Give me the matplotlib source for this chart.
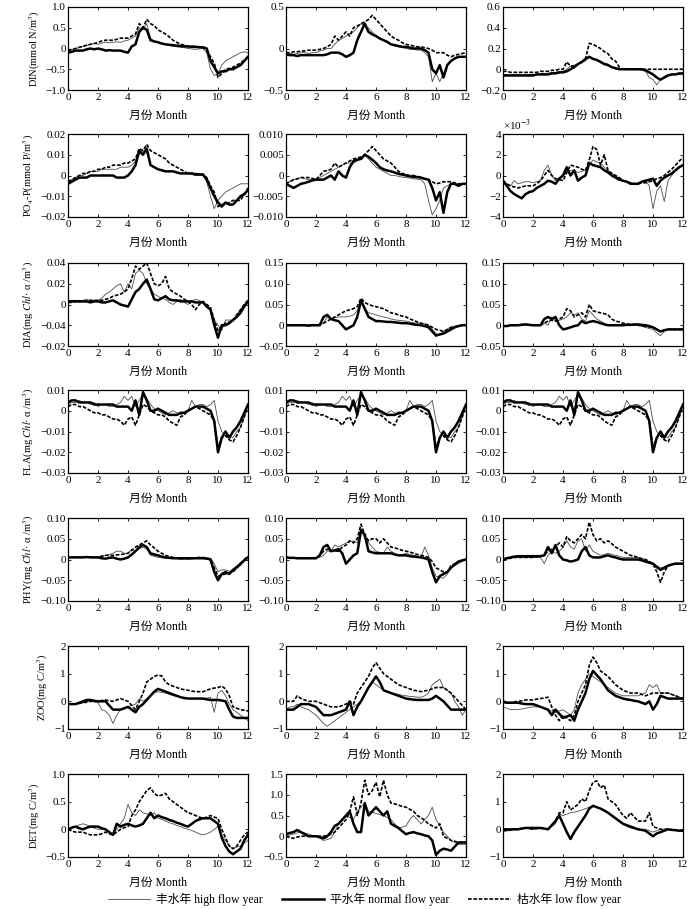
import numpy as np
import matplotlib.pyplot as plt
from matplotlib.lines import Line2D

plt.rcParams['font.family'] = ['Liberation Serif', 'Noto Sans CJK SC']
plt.rcParams['mathtext.fontset'] = 'stix'
plt.rcParams['axes.unicode_minus'] = True

# sample positions (month), every quarter month
month = np.linspace(0, 12, 49)

# ---------------- DIN ----------------
din1_high = [-0.05, -0.03, 0.0, 0.02, 0.05, 0.08, 0.1, 0.12, 0.1, 0.13, 0.15, 0.14,
             0.15, 0.16, 0.15, 0.18, 0.2, 0.25, 0.3, 0.5, 0.45, 0.6, 0.25, 0.18,
             0.15, 0.12, 0.1, 0.08, 0.05, 0.04, 0.03, 0.02, 0.0, -0.01, -0.02, -0.01,
             0.0, -0.1, -0.5, -0.65, -0.6, -0.4, -0.3, -0.25, -0.2, -0.15, -0.1, -0.08, -0.1]
din1_norm = [-0.1, -0.08, -0.05, -0.05, -0.05, -0.02, 0.0, -0.02, 0.0, -0.02, -0.05, -0.04,
             -0.05, -0.05, -0.05, -0.08, -0.1, 0.05, 0.1, 0.4, 0.5, 0.45, 0.2, 0.17,
             0.15, 0.12, 0.1, 0.09, 0.08, 0.07, 0.06, 0.05, 0.05, 0.04, 0.04, 0.03,
             0.03, 0.0, -0.3, -0.45, -0.6, -0.55, -0.55, -0.5, -0.5, -0.45, -0.4, -0.3, -0.2]
din1_low = [-0.05, -0.02, 0.0, 0.03, 0.05, 0.08, 0.1, 0.12, 0.15, 0.18, 0.2, 0.2,
            0.2, 0.22, 0.25, 0.25, 0.25, 0.3, 0.35, 0.6, 0.5, 0.7, 0.6, 0.55,
            0.45, 0.4, 0.35, 0.28, 0.2, 0.15, 0.1, 0.08, 0.05, 0.05, 0.05, 0.04,
            0.02, -0.05, -0.2, -0.35, -0.7, -0.6, -0.5, -0.48, -0.45, -0.4, -0.35, -0.28, -0.2]

din2_high = [-0.05, -0.06, -0.07, -0.06, -0.05, -0.05, -0.06, -0.05, -0.05, -0.03, -0.02, 0.0,
             0.0, 0.05, 0.1, 0.12, 0.15, 0.18, 0.2, 0.25, 0.3, 0.27, 0.25, 0.2,
             0.15, 0.12, 0.1, 0.07, 0.05, 0.03, 0.02, 0.01, 0.0, -0.01, -0.01, -0.02,
             -0.02, -0.05, -0.1, -0.4, -0.3, -0.4, -0.3, -0.2, -0.15, -0.12, -0.1, -0.1, -0.1]
din2_norm = [-0.07, -0.08, -0.08, -0.09, -0.08, -0.08, -0.08, -0.08, -0.08, -0.08, -0.08, -0.07,
             -0.05, -0.05, -0.05, -0.07, -0.1, -0.08, -0.05, 0.1, 0.2, 0.3, 0.2, 0.17,
             0.15, 0.12, 0.1, 0.08, 0.05, 0.04, 0.03, 0.02, 0.02, 0.01, 0.0, 0.0,
             0.0, -0.02, -0.05, -0.25, -0.3, -0.2, -0.35, -0.2, -0.15, -0.12, -0.1, -0.1, -0.1]
din2_low = [-0.05, -0.05, -0.04, -0.04, -0.03, -0.03, -0.02, -0.02, -0.02, -0.01, 0.0, 0.02,
            0.05, 0.15, 0.1, 0.15, 0.2, 0.15, 0.25, 0.27, 0.3, 0.32, 0.35, 0.4,
            0.35, 0.3, 0.25, 0.2, 0.15, 0.12, 0.1, 0.07, 0.05, 0.04, 0.03, 0.02,
            0.02, 0.01, 0.0, -0.02, -0.05, -0.05, -0.05, -0.08, -0.1, -0.08, -0.07, -0.06, -0.05]

din3_high = [-0.05, -0.05, -0.06, -0.05, -0.05, -0.06, -0.05, -0.05, -0.05, -0.05, -0.04, -0.04,
             -0.04, -0.03, -0.03, -0.02, -0.02, 0.0, 0.03, 0.04, 0.05, 0.07, 0.08, 0.12,
             0.1, 0.09, 0.08, 0.06, 0.05, 0.02, 0.0, 0.0, 0.0, 0.0, 0.0, 0.0,
             0.0, -0.01, -0.02, -0.08, -0.1, -0.15, -0.1, -0.07, -0.05, -0.05, -0.05, -0.05, -0.05]
din3_norm = [-0.06, -0.06, -0.06, -0.06, -0.06, -0.06, -0.06, -0.06, -0.06, -0.05, -0.05, -0.05,
             -0.05, -0.04, -0.04, -0.03, -0.03, -0.02, 0.0, 0.02, 0.05, 0.07, 0.1, 0.12,
             0.1, 0.09, 0.07, 0.05, 0.04, 0.02, 0.01, 0.0, 0.0, 0.0, 0.0, 0.0,
             0.0, 0.0, -0.01, -0.03, -0.05, -0.08, -0.1, -0.08, -0.06, -0.05, -0.05, -0.04, -0.04]
din3_low = [-0.02, -0.02, -0.03, -0.03, -0.03, -0.03, -0.03, -0.03, -0.03, -0.03, -0.02, -0.02,
            -0.02, -0.01, -0.01, 0.0, 0.0, 0.07, 0.03, 0.03, 0.05, 0.07, 0.1, 0.25,
            0.24, 0.22, 0.2, 0.17, 0.15, 0.1, 0.08, 0.02, 0.0, 0.0, 0.0, 0.0,
            0.0, 0.0, 0.0, 0.0, 0.0, 0.0, 0.0, 0.0, 0.0, 0.0, 0.0, 0.0, 0.0]

# ---------------- PO4-P ----------------
po1_high = [-0.003, -0.002, -0.001, 0.0, 0.0, 0.001, 0.002, 0.002, 0.002, 0.003, 0.003, 0.003,
            0.003, 0.003, 0.004, 0.004, 0.004, 0.005, 0.007, 0.01, 0.012, 0.011, 0.005, 0.004,
            0.003, 0.003, 0.002, 0.002, 0.002, 0.001, 0.001, 0.001, 0.001, 0.0005, 0.0, 0.0,
            0.0, -0.003, -0.01, -0.016, -0.012, -0.01, -0.008, -0.007, -0.006, -0.005, -0.004, -0.004, -0.004]
po1_norm = [-0.004, -0.003, -0.002, -0.001, -0.001, -0.001, 0.0, 0.0, 0.0, 0.0, 0.0, 0.0,
            0.0, -0.001, -0.001, -0.001, 0.0, 0.002, 0.005, 0.012, 0.01, 0.013, 0.005, 0.004,
            0.003, 0.0025, 0.002, 0.002, 0.002, 0.0015, 0.001, 0.001, 0.001, 0.001, 0.0005, 0.0005,
            0.0005, -0.002, -0.006, -0.01, -0.013, -0.015, -0.013, -0.014, -0.014, -0.012, -0.01, -0.009, -0.007]
po1_low = [-0.003, -0.002, -0.001, 0.0, 0.001, 0.001, 0.002, 0.002, 0.003, 0.003, 0.004, 0.004,
           0.005, 0.005, 0.005, 0.006, 0.006, 0.007, 0.008, 0.013, 0.012, 0.015, 0.012, 0.011,
           0.01, 0.009, 0.008, 0.006, 0.005, 0.004, 0.003, 0.002, 0.001, 0.001, 0.001, 0.0005,
           0.0005, -0.001, -0.005, -0.008, -0.015, -0.014, -0.014, -0.013, -0.012, -0.012, -0.012, -0.009, -0.006]

po2_high = [-0.002, -0.0015, -0.001, -0.0008, -0.0005, -0.0008, -0.001, -0.001, -0.001, -0.0005, 0.0, 0.0005,
            0.001, 0.0015, 0.002, 0.0025, 0.003, 0.003, 0.003, 0.0035, 0.004, 0.005, 0.004, 0.003,
            0.002, 0.0015, 0.001, 0.0005, 0.0, 0.0, -0.0002, -0.0004, -0.0005, -0.0006, -0.0008, -0.0009,
            -0.001, -0.002, -0.006, -0.0095, -0.008, -0.006, -0.003, -0.0025, -0.002, -0.002, -0.002, -0.002, -0.002]
po2_norm = [-0.002, -0.0025, -0.003, -0.0025, -0.002, -0.0018, -0.0015, -0.0012, -0.001, -0.001, -0.001, -0.0005,
            0.0, -0.001, 0.001, 0.0, -0.0005, 0.002, 0.0035, 0.0038, 0.004, 0.005, 0.0045, 0.0038,
            0.003, 0.002, 0.0015, 0.0012, 0.001, 0.0007, 0.0004, 0.0002, 0.0, -0.0002, -0.0003, -0.0004,
            -0.0005, -0.0008, -0.001, -0.003, -0.006, -0.004, -0.009, -0.004, -0.002, -0.002, -0.0025, -0.002, -0.002]
po2_low = [-0.002, -0.0015, -0.001, -0.0008, -0.0005, -0.0005, -0.0005, -0.0007, -0.001, 0.0, 0.001, 0.0012,
           0.0015, 0.003, 0.002, 0.0025, 0.003, 0.0035, 0.004, 0.0042, 0.0045, 0.005, 0.006, 0.007,
           0.006, 0.005, 0.004, 0.0035, 0.003, 0.002, 0.001, 0.0005, 0.0002, 0.0, 0.0, -0.0002,
           -0.0005, -0.0008, -0.001, -0.0015, -0.002, -0.0018, -0.0015, -0.0015, -0.0015, -0.0018, -0.002, -0.002, -0.002]

# third column read in units of 1e-3
po3_high = [-0.5, -0.8, -1.0, -0.5, -0.8, -0.7, -0.6, -0.6, -0.7, -0.6, -0.5, 0.5,
            1.0, 0.0, -0.5, -0.3, 0.0, 0.3, 0.5, 0.4, 0.3, 0.4, 0.5, 1.0,
            1.5, 1.3, 1.2, 0.8, 0.5, 0.2, 0.0, -0.3, -0.5, -0.6, -0.7, -0.8,
            -0.8, -0.6, -0.5, -1.0, -3.2, -1.5, -1.0, -2.5, -0.5, 0.0, 0.5, 0.8, 1.0]
po3_norm = [-0.5, -1.0, -1.5, -1.8, -2.0, -2.2, -1.8, -1.6, -1.5, -1.2, -1.0, -0.8,
            -0.5, -0.6, -0.8, -0.3, 0.0, 0.8, 0.0, 0.5, -0.5, -0.2, 0.0, 1.2,
            1.0, 0.9, 0.8, 0.5, 0.3, 0.0, -0.2, -0.4, -0.5, -0.6, -0.8, -0.8,
            -0.8, -0.6, -0.5, -0.4, -0.3, -1.0, -0.5, -0.2, 0.0, 0.2, 0.5, 0.8, 1.0]
po3_low = [-0.5, -0.8, -1.0, -1.1, -1.2, -1.1, -1.0, -1.0, -1.0, -0.8, -0.5, 0.0,
           0.5, 0.0, -0.3, -0.4, -0.5, 0.3, 1.0, 0.9, 0.8, 0.6, 0.5, 1.5,
           2.8, 2.5, 1.0, 2.0, 0.5, 0.2, 0.0, -0.2, -0.5, -0.6, -0.7, -0.8,
           -0.8, -0.7, -0.7, -0.6, -0.5, -0.3, -0.2, 0.0, 0.3, 0.6, 1.0, 1.4, 1.7]

# ---------------- DIA ----------------
dia1_high = [0.003, 0.004, 0.004, 0.004, 0.004, 0.005, 0.004, 0.004, 0.004, 0.006, 0.01, 0.012,
             0.015, 0.018, 0.02, 0.012, 0.02, 0.015, 0.03, 0.033, 0.03, 0.02, 0.015, 0.01,
             0.008, 0.006, 0.005, 0.002, 0.0, 0.003, 0.005, 0.002, 0.0, 0.003, 0.005, 0.004,
             0.002, -0.002, -0.005, -0.015, -0.02, -0.025, -0.015, -0.015, -0.015, -0.01, -0.005, 0.0, 0.003]
dia1_norm = [0.003, 0.003, 0.003, 0.003, 0.003, 0.003, 0.002, 0.003, 0.003, 0.002, 0.002, 0.003,
             0.004, 0.002, 0.0, -0.001, -0.002, 0.005, 0.012, 0.015, 0.02, 0.024, 0.015, 0.005,
             0.004, 0.006, 0.008, 0.005, 0.004, 0.004, 0.003, 0.003, 0.003, 0.003, 0.002, 0.002,
             0.002, -0.002, -0.005, -0.02, -0.032, -0.02, -0.02, -0.018, -0.015, -0.012, -0.008, -0.002, 0.003]
dia1_low = [0.002, 0.002, 0.003, 0.003, 0.003, 0.003, 0.004, 0.004, 0.004, 0.004, 0.005, 0.006,
            0.008, 0.009, 0.01, 0.012, 0.015, 0.025, 0.037, 0.034, 0.037, 0.04, 0.03, 0.02,
            0.018, 0.02, 0.027, 0.015, 0.012, 0.01, 0.008, 0.005, 0.003, 0.0, -0.005, 0.0,
            0.003, 0.0, -0.003, -0.015, -0.025, -0.022, -0.018, -0.017, -0.015, -0.01, -0.005, 0.0, 0.004]

dia2_high = [0.0, 0.0, 0.001, 0.0, 0.0, 0.0, 0.0, 0.0, 0.0, 0.002, 0.005, 0.02,
             0.015, 0.018, 0.02, 0.02, 0.02, 0.022, 0.025, 0.035, 0.055, 0.04, 0.03, 0.028,
             0.025, 0.022, 0.02, 0.018, 0.015, 0.013, 0.012, 0.011, 0.01, 0.008, 0.006, 0.005,
             0.005, 0.003, 0.0, -0.01, -0.02, -0.025, -0.015, -0.01, -0.005, -0.003, -0.002, 0.0, 0.0]
dia2_norm = [0.0, 0.0, 0.0, 0.0, 0.0, 0.0, -0.001, 0.0, 0.0, 0.0, 0.02, 0.025,
             0.015, 0.012, 0.01, 0.0, -0.01, -0.005, 0.0, 0.02, 0.06, 0.04, 0.02, 0.015,
             0.01, 0.01, 0.009, 0.008, 0.008, 0.007, 0.006, 0.005, 0.005, 0.004, 0.002, 0.001,
             0.0, -0.002, -0.005, -0.015, -0.025, -0.022, -0.02, -0.015, -0.01, -0.005, -0.002, 0.0, 0.0]
dia2_low = [0.0, 0.0, 0.0, 0.0, 0.0, 0.0, 0.0, 0.0, 0.0, 0.002, 0.005, 0.01,
            0.015, 0.02, 0.025, 0.03, 0.035, 0.037, 0.04, 0.045, 0.065, 0.055, 0.05, 0.047,
            0.045, 0.042, 0.04, 0.035, 0.03, 0.028, 0.025, 0.022, 0.02, 0.015, 0.012, 0.008,
            0.005, 0.003, 0.0, -0.005, -0.01, -0.012, -0.015, -0.01, -0.005, -0.003, -0.002, 0.0, 0.0]

dia3_high = [-0.002, -0.002, 0.0, 0.0, 0.0, 0.002, 0.002, 0.0, 0.0, 0.0, 0.0, 0.005,
             0.0, 0.02, 0.01, 0.012, 0.015, 0.02, 0.03, 0.025, 0.03, 0.015, 0.01, 0.035,
             0.025, 0.015, 0.01, 0.005, 0.0, 0.0, 0.0, 0.0, 0.0, 0.0, 0.0, 0.0,
             0.0, -0.002, -0.005, -0.008, -0.01, -0.018, -0.025, -0.015, -0.01, -0.01, -0.01, -0.01, -0.01]
dia3_norm = [-0.002, -0.002, 0.0, 0.0, 0.0, 0.001, 0.002, 0.001, 0.0, 0.0, 0.0, 0.015,
             0.02, 0.015, 0.02, 0.0, -0.01, -0.008, -0.005, -0.002, 0.0, 0.01, 0.005, 0.008,
             0.01, 0.008, 0.005, 0.002, 0.0, 0.0, 0.0, 0.0, 0.0, 0.001, 0.001, 0.002,
             0.002, 0.001, 0.0, -0.002, -0.005, -0.01, -0.015, -0.012, -0.01, -0.01, -0.01, -0.01, -0.01]
dia3_low = [-0.002, -0.002, 0.0, 0.0, 0.0, 0.002, 0.002, 0.0, 0.0, 0.0, 0.0, 0.005,
            0.01, 0.012, 0.01, 0.015, 0.02, 0.04, 0.035, 0.02, 0.025, 0.03, 0.02, 0.05,
            0.035, 0.032, 0.03, 0.028, 0.025, 0.015, 0.01, 0.008, 0.005, 0.003, 0.002, 0.001,
            0.0, -0.002, -0.003, -0.004, -0.005, -0.01, -0.015, -0.012, -0.01, -0.01, -0.01, -0.01, -0.01]

# ---------------- FLA (same in the three panels) ----------------
fla_high = [0.003, 0.004, 0.004, 0.005, 0.004, 0.004, 0.003, 0.004, 0.002, 0.003, 0.003, 0.002,
            0.002, 0.003, 0.004, 0.007, 0.005, 0.007, 0.002, 0.005, 0.008, 0.006, 0.003, 0.001,
            0.0, -0.001, -0.002, -0.001, 0.0, -0.001, -0.002, -0.001, 0.0, 0.005, 0.002, 0.003,
            0.003, 0.002, 0.003, 0.005, -0.005, -0.01, -0.012, -0.012, -0.013, -0.01, -0.008, -0.003, 0.003]
fla_norm = [0.004, 0.005, 0.005, 0.004, 0.004, 0.004, 0.004, 0.003, 0.003, 0.003, 0.003, 0.003,
            0.003, 0.002, 0.002, 0.002, 0.002, 0.0, 0.005, -0.002, 0.009, 0.005, 0.0, 0.0,
            0.001, 0.0, -0.001, -0.002, -0.002, -0.002, -0.001, -0.001, 0.0, 0.001, 0.002, 0.002,
            0.002, 0.001, 0.0, -0.005, -0.02, -0.013, -0.01, -0.013, -0.01, -0.008, -0.005, -0.001, 0.003]
fla_low = [0.002, 0.003, 0.003, 0.002, 0.002, 0.001, 0.0, -0.001, -0.001, -0.002, -0.002, -0.003,
           -0.004, -0.004, -0.005, -0.007, -0.004, -0.003, -0.007, -0.002, 0.003, 0.002, 0.0, -0.001,
           -0.002, -0.002, -0.003, -0.005, -0.006, -0.007, -0.003, -0.002, 0.0, 0.001, 0.002, 0.001,
           0.0, -0.001, -0.002, -0.005, -0.018, -0.013, -0.012, -0.014, -0.015, -0.012, -0.008, -0.003, 0.002]

# ---------------- PHY ----------------
phy1_high = [0.005, 0.006, 0.005, 0.006, 0.005, 0.006, 0.005, 0.006, 0.005, 0.008, 0.01, 0.012,
             0.015, 0.02, 0.02, 0.015, 0.015, 0.025, 0.02, 0.025, 0.03, 0.025, 0.01, 0.008,
             0.005, 0.004, 0.003, 0.003, 0.003, 0.002, 0.0, 0.001, 0.0, 0.001, 0.002, 0.004,
             0.005, 0.004, 0.003, -0.01, -0.03, -0.025, -0.025, -0.028, -0.03, -0.022, -0.015, -0.005, 0.005]
phy1_norm = [0.005, 0.005, 0.005, 0.005, 0.005, 0.006, 0.005, 0.005, 0.005, 0.003, 0.002, 0.004,
             0.005, 0.002, 0.0, 0.002, 0.005, 0.012, 0.02, 0.03, 0.035, 0.03, 0.015, 0.012,
             0.01, 0.007, 0.005, 0.004, 0.003, 0.003, 0.003, 0.003, 0.003, 0.003, 0.003, 0.003,
             0.003, 0.002, 0.0, -0.03, -0.05, -0.035, -0.03, -0.035, -0.025, -0.018, -0.01, -0.002, 0.005]
phy1_low = [0.005, 0.005, 0.006, 0.006, 0.006, 0.006, 0.006, 0.006, 0.006, 0.008, 0.01, 0.01,
            0.01, 0.011, 0.012, 0.013, 0.015, 0.022, 0.03, 0.035, 0.04, 0.045, 0.035, 0.028,
            0.02, 0.015, 0.01, 0.007, 0.005, 0.004, 0.004, 0.003, 0.003, 0.004, 0.004, 0.005,
            0.005, 0.003, 0.0, -0.02, -0.04, -0.037, -0.035, -0.032, -0.03, -0.02, -0.01, 0.0, 0.008]

phy2_high = [0.005, 0.004, 0.004, 0.003, 0.003, 0.003, 0.003, 0.003, 0.003, 0.005, 0.01, 0.02,
             0.02, 0.035, 0.03, 0.035, 0.04, 0.042, 0.045, 0.04, 0.075, 0.05, 0.04, 0.03,
             0.02, 0.017, 0.015, 0.03, 0.02, 0.015, 0.01, 0.012, 0.015, 0.012, 0.01, 0.008,
             0.005, 0.03, 0.01, -0.02, -0.04, -0.043, -0.045, -0.035, -0.02, -0.015, -0.01, -0.005, 0.0]
phy2_norm = [0.005, 0.004, 0.004, 0.003, 0.003, 0.003, 0.003, 0.003, 0.003, 0.01, 0.03, 0.035,
             0.02, 0.022, 0.025, 0.015, -0.01, 0.0, 0.01, 0.015, 0.07, 0.06, 0.02, 0.017,
             0.015, 0.015, 0.015, 0.015, 0.015, 0.012, 0.01, 0.01, 0.01, 0.008, 0.007, 0.006,
             0.005, 0.003, 0.0, -0.03, -0.055, -0.04, -0.035, -0.03, -0.02, -0.012, -0.005, -0.002, 0.0]
phy2_low = [0.005, 0.004, 0.004, 0.003, 0.003, 0.003, 0.003, 0.003, 0.003, 0.01, 0.02, 0.025,
            0.02, 0.02, 0.02, 0.03, 0.035, 0.045, 0.04, 0.05, 0.085, 0.06, 0.045, 0.05,
            0.05, 0.04, 0.05, 0.04, 0.03, 0.028, 0.025, 0.022, 0.02, 0.018, 0.015, 0.012,
            0.01, 0.008, 0.005, -0.005, -0.02, -0.025, -0.03, -0.03, -0.015, -0.01, -0.005, -0.002, 0.0]

phy3_high = [0.0, 0.002, 0.003, 0.005, 0.005, 0.005, 0.005, 0.005, 0.005, 0.005, 0.005, -0.01,
             0.01, 0.02, 0.015, 0.02, 0.03, 0.045, 0.03, 0.025, 0.045, 0.05, 0.02, 0.035,
             0.02, 0.015, 0.01, 0.012, 0.015, 0.012, 0.01, 0.008, 0.005, 0.005, 0.005, 0.005,
             0.005, 0.002, 0.0, -0.005, -0.01, -0.015, -0.02, -0.018, -0.015, -0.012, -0.01, -0.01, -0.01]
phy3_norm = [0.0, 0.003, 0.005, 0.007, 0.008, 0.008, 0.008, 0.008, 0.008, 0.008, 0.008, 0.01,
             0.03, 0.015, 0.035, 0.01, 0.0, -0.002, -0.005, -0.003, 0.0, 0.02, 0.03, 0.01,
             0.005, 0.005, 0.005, 0.008, 0.01, 0.007, 0.005, 0.002, 0.0, 0.0, 0.0, 0.0,
             0.0, -0.002, -0.005, -0.008, -0.01, -0.018, -0.025, -0.02, -0.015, -0.012, -0.01, -0.01, -0.01]
phy3_low = [0.0, 0.002, 0.003, 0.005, 0.005, 0.005, 0.005, 0.005, 0.005, 0.006, 0.008, 0.01,
            0.02, 0.025, 0.03, 0.04, 0.03, 0.055, 0.045, 0.04, 0.05, 0.06, 0.05, 0.09,
            0.06, 0.045, 0.05, 0.04, 0.045, 0.038, 0.03, 0.025, 0.02, 0.015, 0.01, 0.008,
            0.005, 0.002, 0.0, -0.005, -0.01, -0.03, -0.055, -0.03, -0.015, -0.012, -0.01, -0.01, -0.01]

# ---------------- ZOO ----------------
zoo1_high = [-0.1, -0.12, -0.1, -0.05, -0.05, 0.0, 0.0, -0.02, -0.05, -0.3, -0.35, -0.5,
             -0.8, -0.5, -0.3, -0.25, -0.2, -0.15, -0.1, 0.1, 0.0, 0.1, 0.2, 0.3,
             0.35, 0.32, 0.3, 0.25, 0.2, 0.18, 0.15, 0.12, 0.1, 0.1, 0.1, 0.1,
             0.1, 0.12, 0.15, -0.4, 0.3, 0.4, 0.2, -0.1, -0.3, -0.4, -0.5, -0.6, -0.7]
zoo1_norm = [-0.1, -0.1, -0.1, -0.05, 0.0, 0.05, 0.05, 0.02, 0.0, 0.0, 0.0, -0.15,
             -0.3, -0.3, -0.3, -0.25, -0.2, -0.3, -0.4, -0.2, -0.1, 0.05, 0.2, 0.35,
             0.45, 0.4, 0.35, 0.3, 0.25, 0.2, 0.15, 0.12, 0.1, 0.1, 0.1, 0.1,
             0.1, 0.07, 0.05, 0.05, 0.05, 0.03, 0.0, -0.3, -0.55, -0.6, -0.6, -0.6, -0.6]
zoo1_low = [-0.1, -0.1, -0.1, -0.08, -0.05, -0.03, 0.0, 0.0, 0.0, 0.03, 0.05, 0.02,
            0.0, 0.05, 0.1, 0.05, 0.0, -0.15, -0.3, 0.0, 0.3, 0.7, 0.8, 0.9,
            0.95, 0.92, 0.7, 0.6, 0.55, 0.5, 0.45, 0.42, 0.4, 0.37, 0.35, 0.35,
            0.35, 0.4, 0.45, 0.48, 0.5, 0.55, 0.45, 0.2, -0.2, -0.25, -0.3, -0.32, -0.35]

zoo2_high = [-0.3, -0.2, -0.2, -0.1, -0.2, -0.25, -0.3, -0.4, -0.5, -0.65, -0.8, -0.9,
             -0.8, -0.7, -0.6, -0.5, -0.4, -0.3, -0.2, -0.1, 0.0, 0.25, 0.5, 0.7,
             0.6, 0.5, 0.4, 0.35, 0.3, 0.28, 0.25, 0.22, 0.2, 0.18, 0.17, 0.15,
             0.15, 0.2, 0.3, 0.6, 0.7, 0.8, 0.5, 0.4, 0.3, 0.0, -0.2, -0.5, -0.3]
zoo2_norm = [-0.3, -0.3, -0.3, -0.2, -0.1, -0.1, -0.1, -0.15, -0.2, -0.35, -0.5, -0.5,
             -0.5, -0.45, -0.4, -0.35, -0.3, 0.0, -0.5, -0.2, 0.0, 0.25, 0.5, 0.7,
             0.9, 0.7, 0.4, 0.35, 0.3, 0.25, 0.2, 0.15, 0.1, 0.08, 0.06, 0.05,
             0.05, 0.05, 0.05, 0.1, 0.2, 0.1, 0.0, -0.15, -0.3, -0.3, -0.3, -0.3, -0.3]
zoo2_low = [0.0, 0.0, 0.0, 0.2, 0.1, 0.05, 0.0, 0.0, 0.0, -0.05, -0.1, -0.15,
            -0.2, -0.2, -0.2, -0.15, -0.1, 0.0, -0.1, 0.3, 0.5, 0.7, 0.9, 1.2,
            1.4, 1.2, 1.0, 0.9, 0.8, 0.7, 0.6, 0.55, 0.5, 0.45, 0.4, 0.38,
            0.35, 0.38, 0.4, 0.45, 0.5, 0.5, 0.5, 0.4, 0.3, 0.15, 0.0, -0.15, -0.3]

zoo3_high = [-0.2, -0.25, -0.3, -0.3, -0.3, -0.28, -0.25, -0.22, -0.2, -0.2, -0.2, -0.25,
             -0.3, -0.35, -0.4, -0.35, -0.3, -0.4, -0.5, -0.3, 0.3, 0.6, 0.8, 1.0,
             0.9, 0.8, 0.7, 0.6, 0.5, 0.4, 0.3, 0.25, 0.2, 0.2, 0.2, 0.2,
             0.2, 0.25, 0.3, 0.6, 0.5, 0.6, 0.3, 0.3, 0.3, 0.25, 0.2, 0.15, 0.1]
zoo3_norm = [0.0, -0.05, -0.05, -0.05, -0.05, -0.08, -0.1, -0.1, -0.1, -0.15, -0.2, -0.25,
             -0.3, -0.5, -0.3, -0.45, -0.6, -0.55, -0.5, -0.7, -0.3, 0.0, 0.3, 0.8,
             1.1, 0.95, 0.8, 0.6, 0.4, 0.3, 0.2, 0.15, 0.1, 0.07, 0.05, 0.02,
             0.0, -0.05, -0.1, 0.0, -0.3, -0.1, 0.2, 0.15, 0.1, 0.1, 0.1, 0.1, 0.1]
zoo3_low = [-0.05, -0.05, -0.05, -0.02, 0.0, 0.02, 0.05, 0.05, 0.05, 0.08, 0.1, 0.12,
            0.15, -0.2, -0.5, -0.7, -0.5, -0.6, -0.7, -0.5, 0.0, 0.3, 0.6, 1.3,
            1.6, 1.4, 1.1, 1.0, 0.9, 0.75, 0.6, 0.5, 0.4, 0.35, 0.3, 0.3,
            0.3, 0.25, 0.2, 0.25, 0.3, 0.3, 0.3, 0.3, 0.3, 0.25, 0.2, 0.15, 0.1]

# ---------------- DET ----------------
det1_high = [0.0, 0.03, 0.05, 0.08, 0.1, 0.08, 0.05, 0.02, 0.0, 0.0, 0.0, -0.05,
             -0.1, 0.0, 0.1, 0.2, 0.45, 0.3, 0.25, 0.35, 0.3, 0.28, 0.25, 0.3,
             0.2, 0.18, 0.15, 0.12, 0.1, 0.07, 0.05, 0.02, 0.0, -0.02, -0.05, -0.08,
             -0.1, -0.08, -0.05, 0.0, 0.05, -0.1, -0.2, -0.3, -0.35, -0.32, -0.3, -0.25, -0.2]
det1_norm = [0.0, 0.03, 0.05, 0.02, 0.0, 0.03, 0.05, 0.05, 0.05, 0.02, 0.0, -0.05,
             -0.1, 0.1, 0.05, 0.08, 0.1, 0.07, 0.05, 0.07, 0.1, 0.2, 0.3, 0.2,
             0.25, 0.22, 0.2, 0.17, 0.15, 0.12, 0.1, 0.07, 0.05, 0.1, 0.15, 0.18,
             0.2, 0.2, 0.2, 0.15, 0.1, -0.15, -0.3, -0.4, -0.45, -0.4, -0.35, -0.2, -0.1]
det1_low = [0.0, -0.03, -0.05, -0.05, -0.05, -0.08, -0.1, -0.1, -0.1, -0.08, -0.05, -0.08,
            -0.1, -0.05, 0.0, 0.03, 0.05, 0.25, 0.35, 0.5, 0.6, 0.7, 0.75, 0.65,
            0.6, 0.62, 0.65, 0.55, 0.5, 0.45, 0.4, 0.35, 0.3, 0.28, 0.25, 0.22,
            0.2, 0.22, 0.25, 0.22, 0.2, 0.0, -0.15, -0.3, -0.35, -0.3, -0.2, -0.1, -0.05]

det2_high = [0.0, 0.03, 0.05, 0.08, 0.1, 0.08, 0.05, 0.02, 0.0, -0.05, -0.1, -0.08,
             -0.05, 0.1, 0.3, 0.4, 0.5, 0.45, 0.4, 0.6, 0.7, 0.8, 0.6, 0.58,
             0.55, 0.52, 0.5, 0.45, 0.4, 0.3, 0.2, 0.22, 0.25, 0.4, 0.5, 0.4,
             0.3, 0.4, 0.5, 0.7, 0.4, 0.25, 0.1, 0.0, -0.1, -0.15, -0.2, -0.2, -0.2]
det2_norm = [0.05, 0.08, 0.1, 0.15, 0.1, 0.05, 0.0, 0.0, 0.0, -0.02, -0.05, 0.0,
             0.1, 0.25, 0.3, 0.4, 0.5, 0.6, 0.3, 0.1, 0.1, 0.8, 0.5, 0.6,
             0.7, 0.6, 0.5, 0.6, 0.3, 0.25, 0.2, 0.12, 0.05, 0.08, 0.1, 0.07,
             0.05, 0.02, 0.0, -0.1, -0.45, -0.35, -0.3, -0.32, -0.35, -0.25, -0.15, -0.15, -0.15]
det2_low = [0.0, -0.03, -0.05, -0.02, 0.0, 0.0, 0.0, 0.0, 0.0, 0.0, 0.0, 0.02,
            0.05, 0.1, 0.2, 0.3, 0.4, 0.6, 0.95, 0.5, 0.8, 1.35, 1.0, 1.1,
            1.3, 0.95, 1.35, 1.0, 0.8, 0.78, 0.75, 0.72, 0.7, 0.65, 0.6, 0.5,
            0.45, 0.38, 0.3, 0.25, 0.2, 0.3, 0.0, -0.05, -0.1, -0.12, -0.15, -0.15, -0.15]

det3_high = [-0.05, -0.05, -0.03, 0.0, 0.0, 0.02, 0.05, 0.03, 0.0, 0.03, 0.05, 0.02,
             0.0, 0.1, 0.2, 0.55, 0.5, 0.55, 0.6, 0.62, 0.65, 0.7, 0.75, 0.8,
             0.85, 0.8, 0.75, 0.68, 0.6, 0.5, 0.4, 0.3, 0.2, 0.1, 0.05, 0.02,
             0.0, 0.0, 0.0, -0.05, -0.1, -0.05, 0.0, 0.0, 0.0, -0.02, -0.03, -0.05, -0.05]
det3_norm = [0.0, 0.0, 0.0, 0.0, 0.0, 0.03, 0.05, 0.05, 0.05, 0.05, 0.05, 0.03,
             0.0, 0.15, 0.3, 0.5, 0.2, -0.1, -0.35, -0.1, 0.1, 0.3, 0.5, 0.75,
             0.85, 0.8, 0.75, 0.68, 0.6, 0.5, 0.4, 0.3, 0.2, 0.15, 0.1, 0.05,
             0.0, -0.02, -0.05, -0.15, -0.25, -0.15, -0.1, -0.05, 0.0, -0.02, -0.03, -0.05, -0.05]
det3_low = [-0.05, -0.05, -0.03, 0.0, 0.0, 0.02, 0.05, 0.03, 0.0, 0.03, 0.05, 0.02,
            0.0, 0.15, 0.3, 0.6, 0.6, 1.0, 0.7, 0.8, 0.9, 1.1, 1.0, 1.4,
            1.7, 1.75, 1.5, 1.6, 1.1, 1.0, 0.9, 0.7, 0.5, 0.4, 0.6, 0.45,
            0.3, 0.3, 0.3, 0.6, 0.1, 0.05, 0.0, 0.0, 0.0, -0.02, -0.03, -0.05, -0.05]

# ---------------- axis ticks / labels ----------------
row_labels = ['DIN(mmol N/m$^3$)', 'PO$_4$-P(mmol P/m$^3$)',
              'DIA(mg $\\mathit{Chl}$· α /m$^3$)', 'FLA(mg $\\mathit{Chl}$· α /m$^3$)',
              'PHY(mg $\\mathit{Chl}$· α /m$^3$)', 'ZOO(mg C/m$^3$)', 'DET(mg C/m$^3$)']

yt_din1 = [-1, -0.5, 0, 0.5, 1];    yl_din1 = ['−1.0', '−0.5', '0', '0.5', '1.0']
yt_din2 = [-0.5, 0, 0.5];           yl_din2 = ['−0.5', '0', '0.5']
yt_din3 = [-0.2, 0, 0.2, 0.4, 0.6]; yl_din3 = ['−0.2', '0', '0.2', '0.4', '0.6']
yt_po1 = [-0.02, -0.01, 0, 0.01, 0.02];    yl_po1 = ['−0.02', '−0.01', '0', '0.01', '0.02']
yt_po2 = [-0.01, -0.005, 0, 0.005, 0.01];  yl_po2 = ['−0.010', '−0.005', '0', '0.005', '0.010']
yt_po3 = [-4, -2, 0, 2, 4];                yl_po3 = ['−4', '−2', '0', '2', '4']
yt_dia1 = [-0.04, -0.02, 0, 0.02, 0.04];   yl_dia1 = ['−0.02', '−0.04', '0', '0.02', '0.04']
yt_dia2 = [-0.05, 0, 0.05, 0.1, 0.15];     yl_dia2 = ['−0.05', '0', '0.05', '0.10', '0.15']
yt_fla = [-0.03, -0.02, -0.01, 0, 0.01];   yl_fla = ['−0.03', '−0.02', '−0.01', '0', '0.01']
yt_phy = [-0.1, -0.05, 0, 0.05, 0.1];      yl_phy = ['−0.10', '−0.05', '0', '0.05', '0.10']
yt_zoo = [-1, 0, 1, 2];                    yl_zoo = ['−1', '0', '1', '2']
yt_det1 = [-0.5, 0, 0.5, 1];               yl_det1 = ['−0.5', '0', '0.5', '1.0']
yt_det2 = [-0.5, 0, 0.5, 1, 1.5];          yl_det2 = ['−0.5', '0', '0.5', '1.0', '1.5']
yt_det3 = [-1, 0, 1, 2];                   yl_det3 = ['−1', '0', '1', '2']

# (high, normal, low, yticks, yticklabels) for each panel
grid = [
    [(din1_high, din1_norm, din1_low, yt_din1, yl_din1),
     (din2_high, din2_norm, din2_low, yt_din2, yl_din2),
     (din3_high, din3_norm, din3_low, yt_din3, yl_din3)],
    [(po1_high, po1_norm, po1_low, yt_po1, yl_po1),
     (po2_high, po2_norm, po2_low, yt_po2, yl_po2),
     (po3_high, po3_norm, po3_low, yt_po3, yl_po3)],
    [(dia1_high, dia1_norm, dia1_low, yt_dia1, yl_dia1),
     (dia2_high, dia2_norm, dia2_low, yt_dia2, yl_dia2),
     (dia3_high, dia3_norm, dia3_low, yt_dia2, yl_dia2)],
    [(fla_high, fla_norm, fla_low, yt_fla, yl_fla)] * 3,
    [(phy1_high, phy1_norm, phy1_low, yt_phy, yl_phy),
     (phy2_high, phy2_norm, phy2_low, yt_phy, yl_phy),
     (phy3_high, phy3_norm, phy3_low, yt_phy, yl_phy)],
    [(zoo1_high, zoo1_norm, zoo1_low, yt_zoo, yl_zoo),
     (zoo2_high, zoo2_norm, zoo2_low, yt_zoo, yl_zoo),
     (zoo3_high, zoo3_norm, zoo3_low, yt_zoo, yl_zoo)],
    [(det1_high, det1_norm, det1_low, yt_det1, yl_det1),
     (det2_high, det2_norm, det2_low, yt_det2, yl_det2),
     (det3_high, det3_norm, det3_low, yt_det3, yl_det3)],
]

W, H = 700, 909
col_left = [68, 286, 503]
row_top = [7, 134, 263, 390, 518, 646, 774]
ax_w, ax_h = 180, 83

fig = plt.figure(figsize=(W / 100, H / 100), dpi=100)

for r in range(7):
    for c in range(3):
        high, norm, low, yt, yl = grid[r][c]
        ax = fig.add_axes([col_left[c] / W, 1 - (row_top[r] + ax_h) / H, ax_w / W, ax_h / H])
        ax.plot(month, high, color='0.3', lw=0.6)
        ax.plot(month, norm, color='k', lw=1.8)
        ax.plot(month, low, color='k', lw=1.2, ls=(0, (2.2, 1.0)))
        ax.set_xlim(0, 12)
        ax.set_ylim(yt[0], yt[-1])
        ax.set_xticks(range(0, 13, 2))
        ax.set_yticks(yt)
        ax.set_yticklabels(yl)
        ax.tick_params(direction='in', length=2.5, width=0.6, top=True, right=True,
                       labelsize=8, pad=2)
        ax.tick_params(axis='y', pad=1.5)
        for s in ax.spines.values():
            s.set_linewidth(0.9)
        ax.set_xlabel('月份 Month', fontsize=8.5, labelpad=6)
        if c == 0:
            ax.set_ylabel(row_labels[r], fontsize=7.5, labelpad=3)
        if r == 1 and c == 2:
            ax.text(0.0, 1.01, '×10$^{-3}$', transform=ax.transAxes,
                    fontsize=8, ha='left', va='bottom')

handles = [Line2D([], [], color='0.3', lw=0.6),
           Line2D([], [], color='k', lw=1.8),
           Line2D([], [], color='k', lw=1.2, ls=(0, (2.2, 1.0)))]
labels = ['丰水年 high flow year', '平水年 normal flow year', '枯水年 low flow year']
fig.legend(handles, labels, loc='lower center', bbox_to_anchor=(0.52, -0.008), ncol=3,
           frameon=False, fontsize=8.5, handlelength=3.6, handletextpad=0.5,
           columnspacing=1.6)

fig.savefig('out.png', dpi=100)
